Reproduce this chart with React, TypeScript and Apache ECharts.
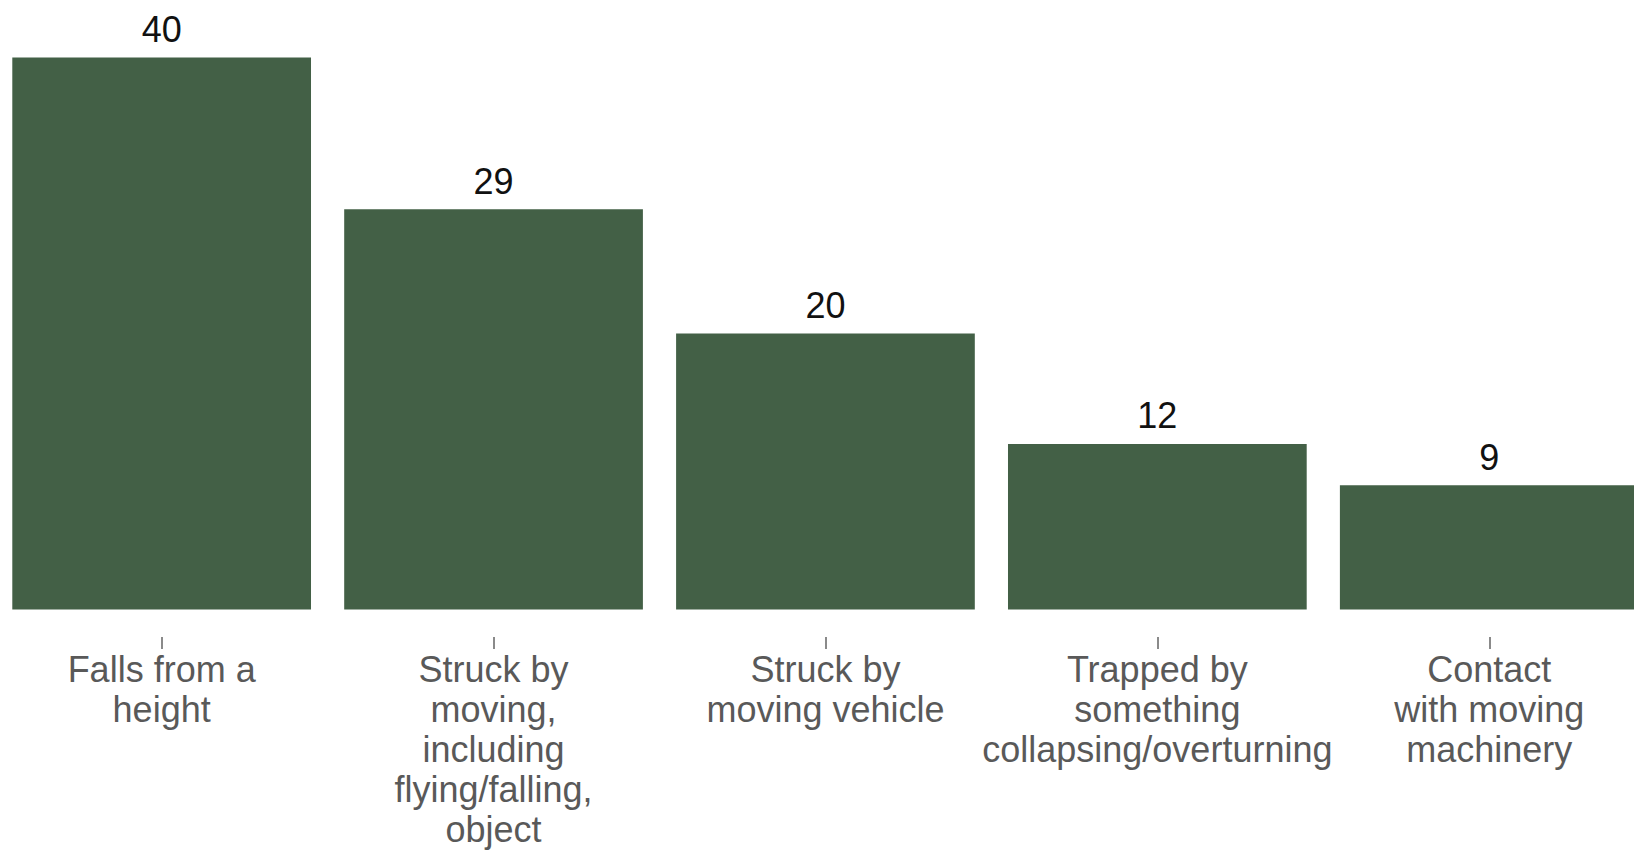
import React, { useEffect, useRef } from "react";
import * as echarts from "echarts";

const categories: string[] = [
  "Falls from a\nheight",
  "Struck by\nmoving,\nincluding\nflying/falling,\nobject",
  "Struck by\nmoving vehicle",
  "Trapped by\nsomething\ncollapsing/overturning",
  "Contact\nwith moving\nmachinery",
];
const values: number[] = [40, 29, 20, 12, 9];

export default function App() {
  const ref = useRef<HTMLDivElement>(null);
  useEffect(() => {
    document.body.style.overflow = "hidden";
    const chart = echarts.init(ref.current!, undefined, { renderer: "svg" });
    chart.setOption({
      animation: false,
      grid: [
        { left: 15.7, right: 4.8, top: 57.5, bottom: 241.5, containLabel: false },
        { left: 15.7, right: 4.8, top: 636, bottom: 214, containLabel: false },
      ],
      xAxis: [
        {
          type: "category",
          gridIndex: 0,
          data: categories,
          axisLine: { show: false },
          axisTick: { show: false },
          axisLabel: { show: false },
        },
        {
          type: "category",
          gridIndex: 1,
          data: categories,
          position: "bottom",
          axisLine: { show: false },
          axisTick: {
            show: true,
            alignWithLabel: true,
            length: 12,
            lineStyle: { color: "#8a8a8a", width: 2 },
          },
          axisLabel: {
            interval: 0,
            margin: 12.5,
            fontFamily: "Liberation Sans",
            fontSize: 36,
            lineHeight: 40,
            color: "#595959",
            align: "center",
          },
        },
      ],
      yAxis: [
        { type: "value", gridIndex: 0, min: 0, max: 40, show: false, splitLine: { show: false } },
        { type: "value", gridIndex: 1, min: 0, max: 1, show: false, splitLine: { show: false } },
      ],
      series: [
        {
          type: "bar",
          xAxisIndex: 0,
          yAxisIndex: 0,
          data: values,
          barCategoryGap: "10%",
          itemStyle: { color: "#436046" },
          label: {
            show: true,
            position: "top",
            distance: 10,
            fontFamily: "Liberation Sans",
            fontSize: 36,
            color: "#111111",
          },
        },
      ],
    });
    return () => chart.dispose();
  }, []);
  return (
    <div
      ref={ref}
      style={{ position: "fixed", left: -20, top: 0, width: 1680, height: 851, background: "#fff" }}
    />
  );
}
